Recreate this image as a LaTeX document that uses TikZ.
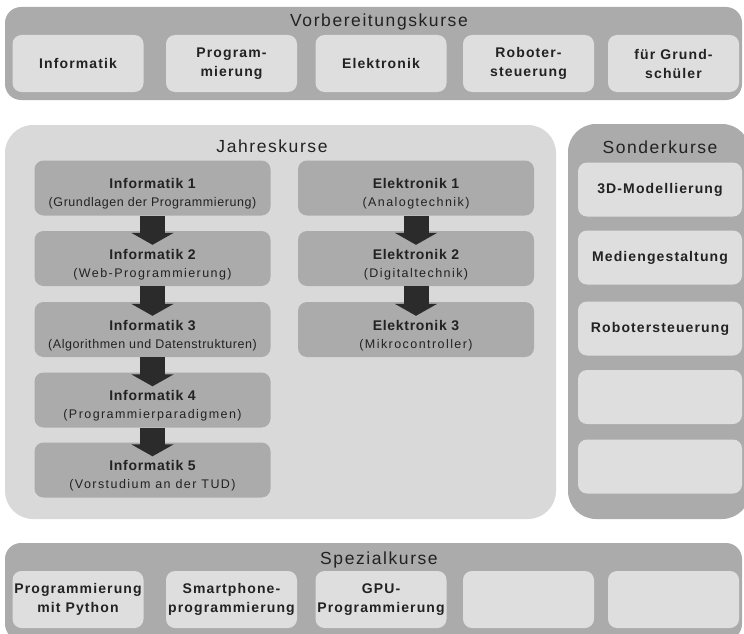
\documentclass[tikz,border=0pt]{standalone}
\usepackage{fontspec}
\setmainfont{Liberation Sans}
\newfontfamily\titlefont[LetterSpace=9]{Liberation Sans}
\newfontfamily\boxfont[LetterSpace=8]{Liberation Sans}
\newfontfamily\headfont[LetterSpace=5]{Liberation Sans}
\newfontfamily\subfont[LetterSpace=11.5]{Liberation Sans}
\newfontfamily\longsubfont[LetterSpace=4.5]{Liberation Sans}
\usetikzlibrary{arrows.meta,positioning}
\definecolor{darkpanel}{HTML}{ABABAB}
\definecolor{lightpanel}{HTML}{D9D9D9}
\definecolor{lightbox}{HTML}{DEDEDE}
\definecolor{arrowgray}{HTML}{2B2B2B}
\definecolor{textgray}{HTML}{222222}
\newcommand{\yearhead}[1]{{\fontsize{14}{18}\headfont\bfseries\rule{0pt}{22pt}#1}}
\newcommand{\yearlabel}[2]{\yearhead{#1}\\{\subfont #2}}

\begin{document}
\begin{tikzpicture}[x=1pt,y=-1pt,
                   every node/.style = {shape=rectangle, align=center,
                   text=textgray, inner sep=0pt},
                   panel/.style={fill=darkpanel, rounded corners=16pt},
                   bigpanel/.style={rounded corners=28pt},
                   title/.style={font=\fontsize{17.5}{20}\titlefont},
                   course/.style={fill=lightbox, rounded corners=9pt,
                   minimum width=131pt, minimum height=57pt,
                   font=\fontsize{14}{19}\boxfont\bfseries},
                   year/.style={fill=darkpanel, rounded corners=9pt,
                   minimum width=236pt, minimum height=55pt,
                   font=\fontsize{12.5}{18}\selectfont},
                   special/.style={course, minimum width=164pt, minimum height=54pt},
                   flow/.style={draw=arrowgray, line width=25pt,
                   -{Triangle[width=42pt,length=12pt]}, shorten >=-14pt}]
  \useasboundingbox (0,0) rectangle (744,634);

  % Vorbereitungskurse
  \node[panel, minimum width=737pt, minimum height=93pt] (vorpanel) at (373.5,53.5) {};
  \node[title] (vortitle) at (379,22) {Vorbereitungskurse};
  \node[course] (v1) at (78,63.5) {Informatik};
  \node[course] (v2) at (231.5,63.5) {Program-\\mierung};
  \node[course] (v3) at (381,63.5) {Elektronik};
  \node[course] (v4) at (528.5,63.5) {Roboter-\\steuerung};
  \node[course] (v5) at (673.5,63.5) {für Grund-\\schüler};

  % Jahreskurse
  \node[bigpanel, fill=lightpanel, minimum width=551pt, minimum height=394pt] (jahrpanel) at (280.5,322) {};
  \node[title] (jahrtitle) at (272,146) {Jahreskurse};
  \node[year] (i1) at (152.5,188) {\yearhead{Informatik 1}\\{\longsubfont(Grundlagen der Programmierung)}};
  \node[year] (i2) at (152.5,258.5) {\yearlabel{Informatik 2}{(Web-Programmierung)}};
  \node[year] (i3) at (152.5,329.5) {\yearhead{Informatik 3}\\{\longsubfont(Algorithmen und Datenstrukturen)}};
  \node[year] (i4) at (152.5,400) {\yearlabel{Informatik 4}{(Programmierparadigmen)}};
  \node[year] (i5) at (152.5,470) {\yearlabel{Informatik 5}{(Vorstudium an der TUD)}};
  \node[year] (e1) at (416,188) {\yearlabel{Elektronik 1}{(Analogtechnik)}};
  \node[year] (e2) at (416,258.5) {\yearlabel{Elektronik 2}{(Digitaltechnik)}};
  \node[year] (e3) at (416,329.5) {\yearlabel{Elektronik 3}{(Mikrocontroller)}};
  \foreach \a/\b in {i1/i2,i2/i3,i3/i4,i4/i5,e1/e2,e2/e3}
    \draw[flow] (\a.south) -- (\b.north);

  % Sonderkurse
  \node[bigpanel, fill=darkpanel, minimum width=182pt, minimum height=395pt] (sonderpanel) at (659,321.5) {};
  \node[title] (sondertitle) at (660,147) {Sonderkurse};
  \node[special] (s1) at (660,189.5) {3D-Modellierung};
  \node[special] (s2) at (660,257.5) {Mediengestaltung};
  \node[special] (s3) at (660,328.5) {Robotersteuerung};
  \node[special] (s4) at (660,397) {};
  \node[special] (s5) at (660,466.5) {};

  % Spezialkurse
  \node[panel, minimum width=737pt, minimum height=97pt] (spezpanel) at (373.5,591.5) {};
  \node[title] (speztitle) at (379,560) {Spezialkurse};
  \node[course] (p1) at (78,599.5) {Programmierung\\mit Python};
  \node[course] (p2) at (231.5,599.5) {Smartphone-\\programmierung};
  \node[course] (p3) at (381,599.5) {GPU-\\Programmierung};
  \node[course] (p4) at (528.5,599.5) {};
  \node[course] (p5) at (673.5,599.5) {};
\end{tikzpicture}
\end{document}
